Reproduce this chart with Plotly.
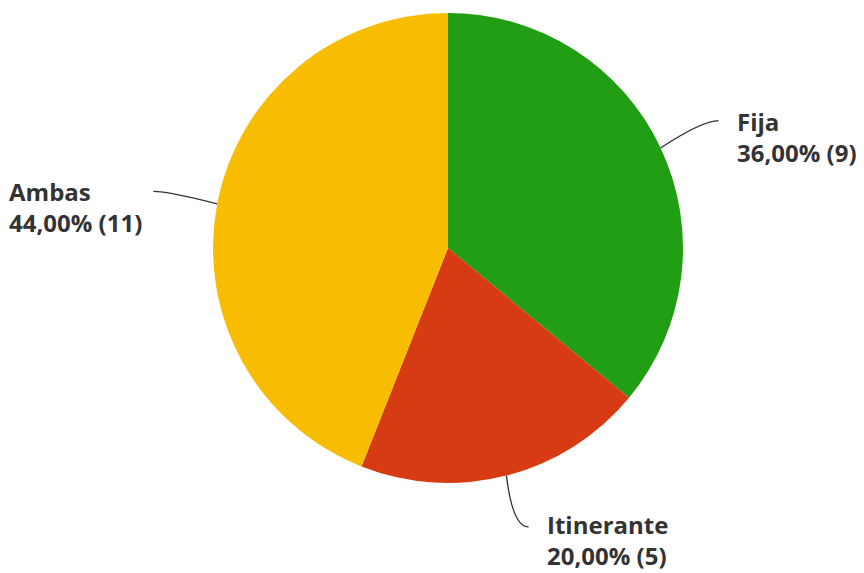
import math
import plotly.graph_objects as go

labels = ["Fija", "Itinerante", "Ambas"]
counts = [9, 5, 11]
percent_text = ["36,00%", "20,00%", "44,00%"]
colors = ["#229E15", "#D73B13", "#F8BD00"]

W, H = 864, 573
OFF = 8  # page body margin in the rendered html
CX, CY, R = 448, 248, 235
LEAD = [64, 53, 67]      # leader length beyond the rim
END_DX = [0, 9, 2]       # small horizontal nudge of leader end
TEXT_DY = [1, -3, 0]     # small vertical nudge of label text
FS = 24
FONT = dict(family="Open Sans, Roboto, Arial, sans-serif", size=FS, color="#333333")


def px(x):
    return (x - OFF) / W


def py(y):
    return 1 - (y - OFF) / H


fig = go.Figure(go.Pie(
    labels=labels,
    values=counts,
    sort=False,
    direction="clockwise",
    rotation=0,
    marker=dict(colors=colors, line=dict(width=0)),
    textinfo="none",
    hoverinfo="label+percent+value",
    domain=dict(x=[px(CX - R), px(CX + R)], y=[py(CY + R), py(CY - R)]),
    showlegend=False,
))

total = sum(counts)
cum = 0
shapes = []
annotations = []
for lab, c, pt, lead, dx, tdy in zip(labels, counts, percent_text, LEAD, END_DX, TEXT_DY):
    mid = (cum + c / 2) / total * 2 * math.pi
    cum += c
    sx, sy = CX + R * math.sin(mid), CY - R * math.cos(mid)
    ex, ey = CX + (R + lead) * math.sin(mid) + dx, CY - (R + lead) * math.cos(mid)
    side = 1 if math.sin(mid) >= 0 else -1
    qx, qy = ex - side * 16, ey
    shapes.append(dict(
        type="path", xref="paper", yref="paper",
        path=f"M {px(sx)},{py(sy)} Q {px(qx)},{py(qy)} {px(ex)},{py(ey)}",
        line=dict(color="#333333", width=1.3),
    ))
    tx = ex + (17 if side > 0 else -10)
    annotations.append(dict(
        xref="paper", yref="paper",
        x=px(tx), y=py(ey + tdy + 0.65 * FS),
        xanchor="left" if side > 0 else "right", yanchor="middle",
        align="left", showarrow=False, borderpad=0,
        text=f"<b>{lab}</b><br><b>{pt} ({c})</b>",
        font=FONT,
    ))

fig.update_layout(
    width=W, height=H,
    margin=dict(l=0, r=0, t=0, b=0),
    paper_bgcolor="white", plot_bgcolor="white",
    shapes=shapes, annotations=annotations,
)

fig.write_html("out.html")
